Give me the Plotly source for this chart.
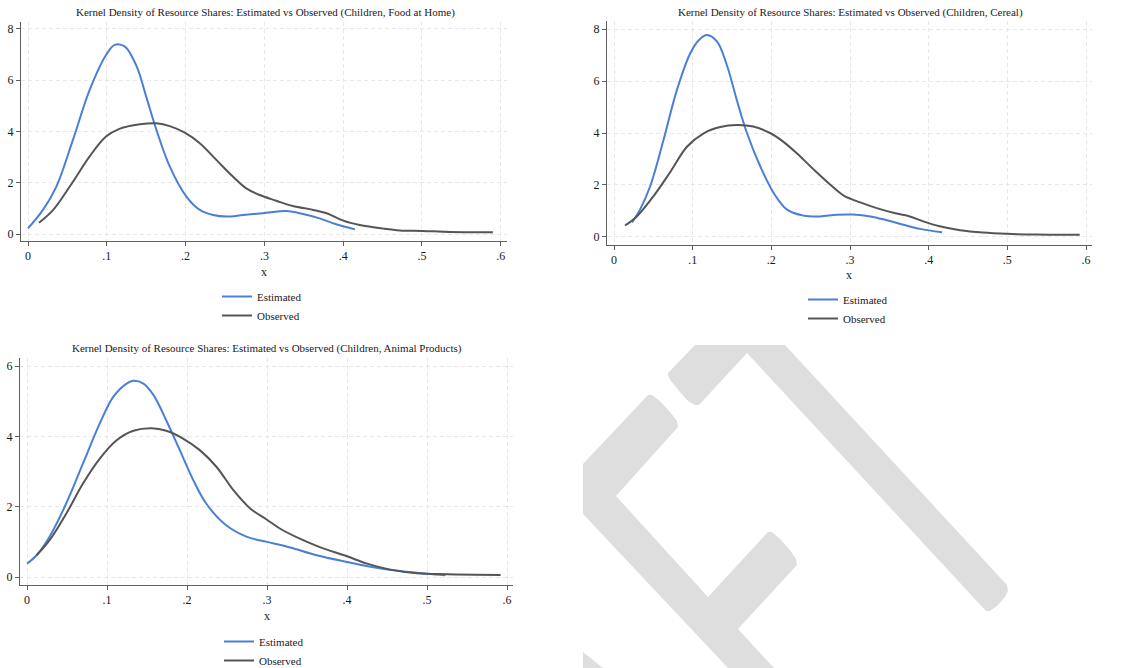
import plotly.graph_objects as go

W, H = 1147, 668

# ---------------- data ----------------
# Panel 1: Children, Food at Home
food_est_x = [0.0, 0.019, 0.036, 0.057, 0.078, 0.099, 0.110, 0.123, 0.138, 0.150, 0.163, 0.180,
              0.201, 0.218, 0.235, 0.252, 0.273, 0.298, 0.328, 0.345, 0.370, 0.391, 0.415]
food_est_y = [0.22, 0.94, 1.85, 3.67, 5.60, 6.98, 7.38, 7.31, 6.53, 5.36, 4.06, 2.63,
              1.46, 0.94, 0.74, 0.68, 0.74, 0.81, 0.90, 0.81, 0.61, 0.38, 0.18]
food_obs_x = [0.014, 0.032, 0.057, 0.078, 0.099, 0.116, 0.142, 0.163, 0.180, 0.199, 0.218, 0.239,
              0.260, 0.277, 0.294, 0.315, 0.336, 0.362, 0.379, 0.400, 0.421, 0.451, 0.472, 0.501,
              0.535, 0.590]
food_obs_y = [0.44, 0.94, 2.04, 3.02, 3.80, 4.10, 4.28, 4.32, 4.21, 3.95, 3.54, 2.89,
              2.24, 1.78, 1.52, 1.30, 1.09, 0.94, 0.81, 0.52, 0.35, 0.21, 0.14, 0.12,
              0.08, 0.07]

# Panel 2: Children, Cereal
cer_est_x = [0.023, 0.033, 0.046, 0.063, 0.080, 0.097, 0.108, 0.118, 0.131, 0.144, 0.156, 0.169,
             0.186, 0.203, 0.220, 0.241, 0.262, 0.283, 0.304, 0.326, 0.347, 0.368, 0.389, 0.417]
cer_est_y = [0.56, 1.05, 1.95, 3.74, 5.66, 7.07, 7.58, 7.77, 7.52, 6.56, 5.28, 4.00,
             2.71, 1.69, 1.05, 0.82, 0.79, 0.85, 0.86, 0.79, 0.64, 0.47, 0.31, 0.18]
cer_obs_x = [0.014, 0.029, 0.050, 0.072, 0.093, 0.114, 0.135, 0.156, 0.177, 0.199, 0.215, 0.232,
             0.254, 0.275, 0.292, 0.313, 0.334, 0.359, 0.376, 0.393, 0.414, 0.440, 0.469, 0.499,
             0.537, 0.592]
cer_obs_y = [0.44, 0.79, 1.56, 2.52, 3.48, 3.99, 4.23, 4.31, 4.25, 3.99, 3.67, 3.23,
             2.59, 2.01, 1.59, 1.33, 1.11, 0.90, 0.79, 0.60, 0.41, 0.26, 0.17, 0.12,
             0.09, 0.08]

# Panel 3: Children, Animal Products
ani_est_x = [0.0, 0.012, 0.028, 0.049, 0.070, 0.091, 0.108, 0.125, 0.133, 0.145, 0.158, 0.174,
             0.191, 0.208, 0.224, 0.249, 0.275, 0.300, 0.329, 0.362, 0.400, 0.433, 0.466, 0.500,
             0.523]
ani_est_y = [0.38, 0.62, 1.14, 2.09, 3.23, 4.37, 5.13, 5.51, 5.58, 5.51, 5.18, 4.46,
             3.61, 2.75, 2.09, 1.47, 1.14, 1.00, 0.84, 0.62, 0.43, 0.28, 0.17, 0.09,
             0.05]
ani_obs_x = [0.012, 0.028, 0.049, 0.070, 0.091, 0.112, 0.133, 0.156, 0.174, 0.195, 0.216, 0.237,
             0.258, 0.279, 0.300, 0.316, 0.341, 0.366, 0.400, 0.425, 0.454, 0.487, 0.525, 0.592]
ani_obs_y = [0.62, 1.04, 1.80, 2.66, 3.37, 3.89, 4.16, 4.23, 4.16, 3.94, 3.61, 3.13,
             2.47, 1.95, 1.63, 1.38, 1.09, 0.85, 0.59, 0.38, 0.21, 0.11, 0.08, 0.06]

titles = [
    "Kernel Density of Resource Shares: Estimated vs Observed (Children, Food at Home)",
    "Kernel Density of Resource Shares: Estimated vs Observed (Children, Cereal)",
    "Kernel Density of Resource Shares: Estimated vs Observed (Children, Animal Products)",
]
x_tickvals = [0, 0.1, 0.2, 0.3, 0.4, 0.5, 0.6]
x_ticktext = ["0", ".1", ".2", ".3", ".4", ".5", ".6"]
y_ticks_p1 = [0, 2, 4, 6, 8]
y_ticks_p3 = [0, 2, 4, 6]
series_names = ["Estimated", "Observed"]

# ---------------- styling ----------------
BLUE = "#4a7fd6"
GREY = "#555555"
FONT = "Liberation Serif"
TXT = "#1a1a1a"
AXIS = "#5f5f5f"
GRID = "#e8e8e8"

def px(x):
    return x / W

def py(y):
    return 1 - y / H

fig = go.Figure()

panels = [
    dict(ex=food_est_x, ey=food_est_y, ox=food_obs_x, oy=food_obs_y,
         box=(21, 22, 507, 241), xr=[-0.0089, 0.6079], yr=[-0.273, 8.27], yt=y_ticks_p1,
         tpos=(265, 12), xlab=(264, 272), leg=(217, 282)),
    dict(ex=cer_est_x, ey=cer_est_y, ox=cer_obs_x, oy=cer_obs_y,
         box=(607, 21, 1092, 245), xr=[-0.0089, 0.6076], yr=[-0.31, 8.31], yt=y_ticks_p1,
         tpos=(850, 12), xlab=(849, 275), leg=(803, 285)),
    dict(ex=ani_est_x, ey=ani_est_y, ox=ani_obs_x, oy=ani_obs_y,
         box=(20, 358, 513, 585), xr=[-0.00875, 0.6075], yr=[-0.227, 6.23], yt=y_ticks_p3,
         tpos=(267, 348), xlab=(267, 616), leg=(219, 627)),
]

annotations = []
layout_axes = {}
for i, p in enumerate(panels, start=1):
    sfx = "" if i == 1 else str(i)
    leg = "legend" if i == 1 else f"legend{i}"
    fig.add_trace(go.Scatter(x=p["ex"], y=p["ey"], mode="lines", name=series_names[0],
                             line=dict(color=BLUE, width=2, shape="spline", smoothing=1.0),
                             xaxis=f"x{sfx}", yaxis=f"y{sfx}", legend=leg))
    fig.add_trace(go.Scatter(x=p["ox"], y=p["oy"], mode="lines", name=series_names[1],
                             line=dict(color=GREY, width=2, shape="spline", smoothing=1.0),
                             xaxis=f"x{sfx}", yaxis=f"y{sfx}", legend=leg))
    l, t, r, b = p["box"]
    common = dict(ticks="outside", ticklen=4, tickcolor=AXIS, showline=True, linecolor=AXIS,
                  linewidth=1, showgrid=True, gridcolor=GRID, griddash="4px,3px", gridwidth=1,
                  zeroline=False, tickfont=dict(family=FONT, size=12, color=TXT))
    layout_axes[f"xaxis{sfx}"] = dict(
        domain=[px(l), px(r)], range=p["xr"], anchor=f"y{sfx}",
        tickvals=x_tickvals, ticktext=x_ticktext, **common)
    layout_axes[f"yaxis{sfx}"] = dict(
        domain=[py(b), py(t)], range=p["yr"], anchor=f"x{sfx}",
        tickvals=p["yt"], ticktext=[str(v) for v in p["yt"]], **common)
    annotations.append(dict(text=titles[i - 1], x=px(p["tpos"][0]), y=py(p["tpos"][1]),
                            xref="paper", yref="paper", showarrow=False,
                            xanchor="center", yanchor="middle",
                            font=dict(family=FONT, size=11, color=TXT)))
    annotations.append(dict(text="x", x=px(p["xlab"][0]), y=py(p["xlab"][1]),
                            xref="paper", yref="paper", showarrow=False,
                            xanchor="center", yanchor="middle",
                            font=dict(family=FONT, size=12, color=TXT)))
    layout_axes[leg] = dict(x=px(p["leg"][0]), y=py(p["leg"][1]), xanchor="left", yanchor="top",
                            orientation="v", bgcolor="rgba(0,0,0,0)",
                            font=dict(family=FONT, size=11, color=TXT),
                            tracegroupgap=0, itemwidth=30)

# watermark (decorative, in figure pixel coordinates)
def path_from(points):
    return "M " + " L ".join(f"{px(x):.5f},{py(y):.5f}" for x, y in points) + " Z"

wm1 = [(668, 373), (695, 345), (785, 345), (1007, 585), (1008, 591), (1005, 597), (998, 605),
       (990, 611), (986, 611), (747, 353), (699, 405), (695, 405), (688, 401), (680, 392),
       (671, 381), (668, 376)]
wm2 = [(583, 464), (648, 395), (652, 395), (660, 401), (670, 412), (677, 421), (678, 427),
       (616, 496), (708, 597), (768, 532), (772, 532), (780, 539), (790, 550), (796, 559),
       (797, 565), (738, 629), (774, 668), (728, 668), (583, 514)]
wm3 = [(583, 652), (603, 668), (583, 668)]
shapes = [dict(type="path", path=path_from(w), xref="paper", yref="paper",
               fillcolor="#dedede", line=dict(width=0), layer="below") for w in (wm1, wm2, wm3)]

fig.update_layout(
    width=W, height=H, margin=dict(l=0, r=0, t=0, b=0, autoexpand=False),
    paper_bgcolor="white", plot_bgcolor="white",
    font=dict(family=FONT, size=11, color=TXT),
    annotations=annotations, shapes=shapes, showlegend=True,
    **layout_axes,
)

fig.write_html("out.html")
